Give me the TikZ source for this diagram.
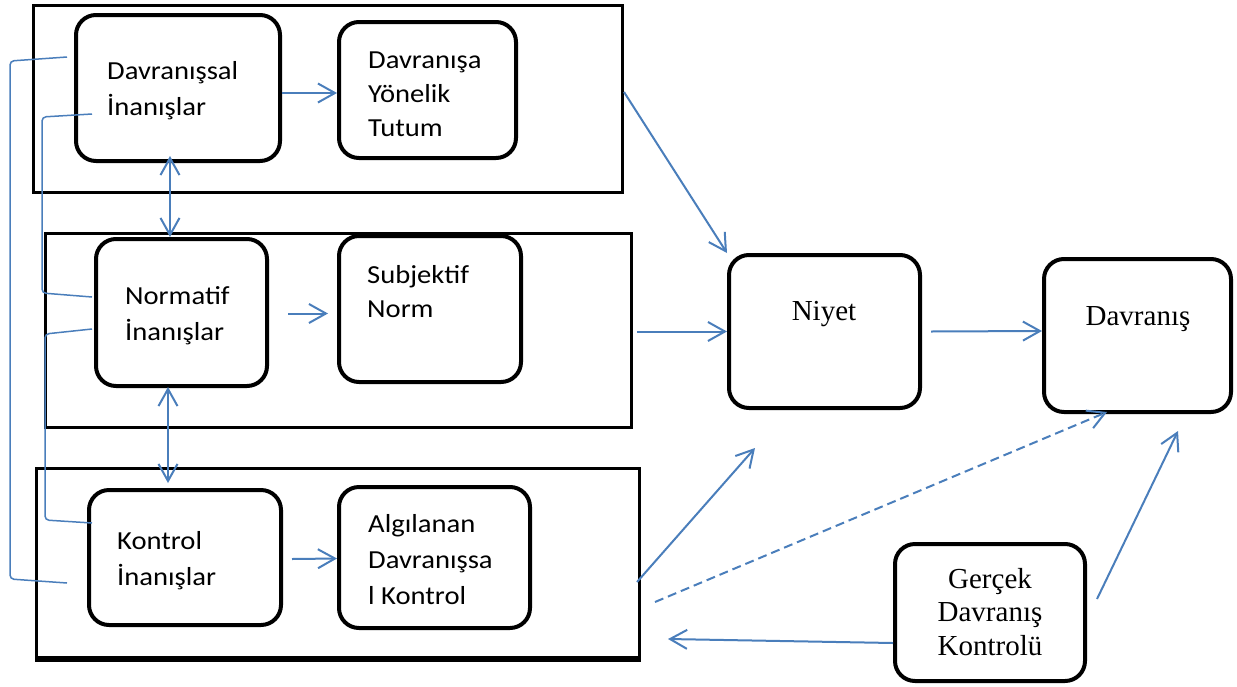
\documentclass[tikz,border=0pt]{standalone}
\usepackage{fontspec}
\newfontfamily\calib[FakeStretch=1.1]{Carlito}
\newfontfamily\tnr{Liberation Serif}
\usetikzlibrary{arrows.meta}
\definecolor{link}{RGB}{74,126,187}
\begin{document}
\begin{tikzpicture}[x=1pt,y=-1pt,
  panel/.style={draw, line width=3pt, inner sep=0pt, anchor=north west},
  rbox/.style={draw, line width=4pt, rounded corners=20pt, inner sep=0pt, anchor=north west},
  sans/.style={inner sep=0pt, anchor=base west, font=\calib\fontsize{26}{36}\selectfont},
  sanstight/.style={sans, font=\calib\fontsize{26}{34}\selectfont},
  serif/.style={inner sep=0pt, anchor=base, font=\tnr\fontsize{29}{33.5}\selectfont},
  flow/.style={draw=link, line width=2pt, -{Straight Barb[length=17pt,width=19pt]}},
  twoway/.style={flow, {Straight Barb[length=17pt,width=19pt]}-{Straight Barb[length=17pt,width=19pt]}},
  bracket/.style={draw=link, line width=1.5pt, rounded corners=4pt},
]
\useasboundingbox (0,0) rectangle (1237,686);

% the three grouping panels
\node[panel, minimum width=589pt, minimum height=187pt] (p1) at (32,4) {};
\node[panel, minimum width=586pt, minimum height=194pt] (p2) at (44,232) {};
\node[panel, minimum width=603pt, minimum height=192pt] (p3) at (35,467) {};
\draw[line width=6pt] ([yshift=3pt]p3.south west) -- ([yshift=3pt]p3.south east);

% rounded boxes
\node[rbox, minimum width=204pt, minimum height=146pt] (A) at (74,13) {};
\node[rbox, minimum width=177pt, minimum height=136pt] (B) at (337,20) {};
\node[rbox, minimum width=171pt, minimum height=147pt] (C) at (94,237) {};
\node[rbox, minimum width=182pt, minimum height=146pt] (D) at (337,234) {};
\node[rbox, minimum width=192pt, minimum height=135pt] (E) at (87,488) {};
\node[rbox, minimum width=191pt, minimum height=141pt] (F) at (337,485) {};
\node[rbox, minimum width=191pt, minimum height=153pt] (G) at (727,253) {};
\node[rbox, minimum width=187pt, minimum height=153pt] (H) at (1042,257) {};
\node[rbox, minimum width=190pt, minimum height=137pt] (I) at (893,542) {};

% labels
\node[sans] (tA) at (107,79) {\begin{tabular}[t]{@{}l@{}}Davranışsal\\İnanışlar\end{tabular}};
\node[sanstight] (tB) at (368,68) {\begin{tabular}[t]{@{}l@{}}Davranışa\\Yönelik\\Tutum\end{tabular}};
\node[sans] (tC) at (125,304) {\begin{tabular}[t]{@{}l@{}}Normatif\\İnanışlar\end{tabular}};
\node[sanstight] (tD) at (367,283) {\begin{tabular}[t]{@{}l@{}}Subjektif\\Norm\end{tabular}};
\node[sans] (tE) at (117,549) {\begin{tabular}[t]{@{}l@{}}Kontrol\\İnanışlar\end{tabular}};
\node[sans] (tF) at (368,532) {\begin{tabular}[t]{@{}l@{}}Algılanan\\Davranışsa\\l Kontrol\end{tabular}};
\node[serif] (tG) at (824,320) {Niyet};
\node[serif] (tH) at (1138,325) {Davranış};
\node[serif] (tI) at (990,588) {\begin{tabular}[t]{@{}c@{}}Gerçek\\Davranış\\Kontrolü\end{tabular}};

% connectors
\draw[flow] ([yshift=-5pt]A.east) -- ([yshift=-3pt]B.west);
\draw[twoway] ([xshift=-8pt,yshift=7pt]A.south) -- ([xshift=-11.5pt]C.north);
\draw[twoway] ([xshift=-13.5pt,yshift=1pt]C.south) -- ([xshift=-17pt,yshift=5pt]E.north);
\draw[flow] ([xshift=19pt,yshift=-1pt]C.east) -- ([xshift=-9pt,yshift=-4.5pt]D.west);
\draw[flow] ([xshift=9pt,yshift=-1.5pt]E.east) -- ([yshift=-1pt]F.west);
\draw[flow] ([yshift=7pt]p1.east) -- (G.north west);
\draw[flow] ([xshift=4pt,yshift=-1pt]p2.east) -- (G.west);
\draw[flow] ([xshift=-4pt,yshift=-17.5pt]p3.east) -- ([xshift=28pt,yshift=-38pt]G.south west);
\draw[flow, dash pattern=on 9pt off 5pt] ([xshift=14pt,yshift=-37.5pt]p3.east) -- ([xshift=-30.5pt,yshift=2pt]H.south);
\draw[flow] ([xshift=9pt]G.east) -- ([yshift=4.5pt]H.west);
\draw[flow] ([xshift=10pt,yshift=13.5pt]I.east) -- ([xshift=40.5pt,yshift=-17pt]H.south);
\draw[flow] ([yshift=-30.5pt]I.west) -- ([xshift=27pt,yshift=-74.5pt]p3.east);

% belief links on the left
\draw[bracket] ([xshift=-7pt,yshift=31pt]A.west) -- (10,61) -- (10,579) -- ([xshift=-20pt,yshift=-25.5pt]E.west);
\draw[bracket] ([xshift=18pt,yshift=-26pt]A.west) -- (42,117) -- (42,293) -- ([xshift=-2pt,yshift=15.5pt]C.west);
\draw[bracket] ([xshift=-2pt,yshift=-16.5pt]C.west) -- (45,334) -- (45,520) -- ([xshift=5pt,yshift=34.5pt]E.west);
\end{tikzpicture}
\end{document}
